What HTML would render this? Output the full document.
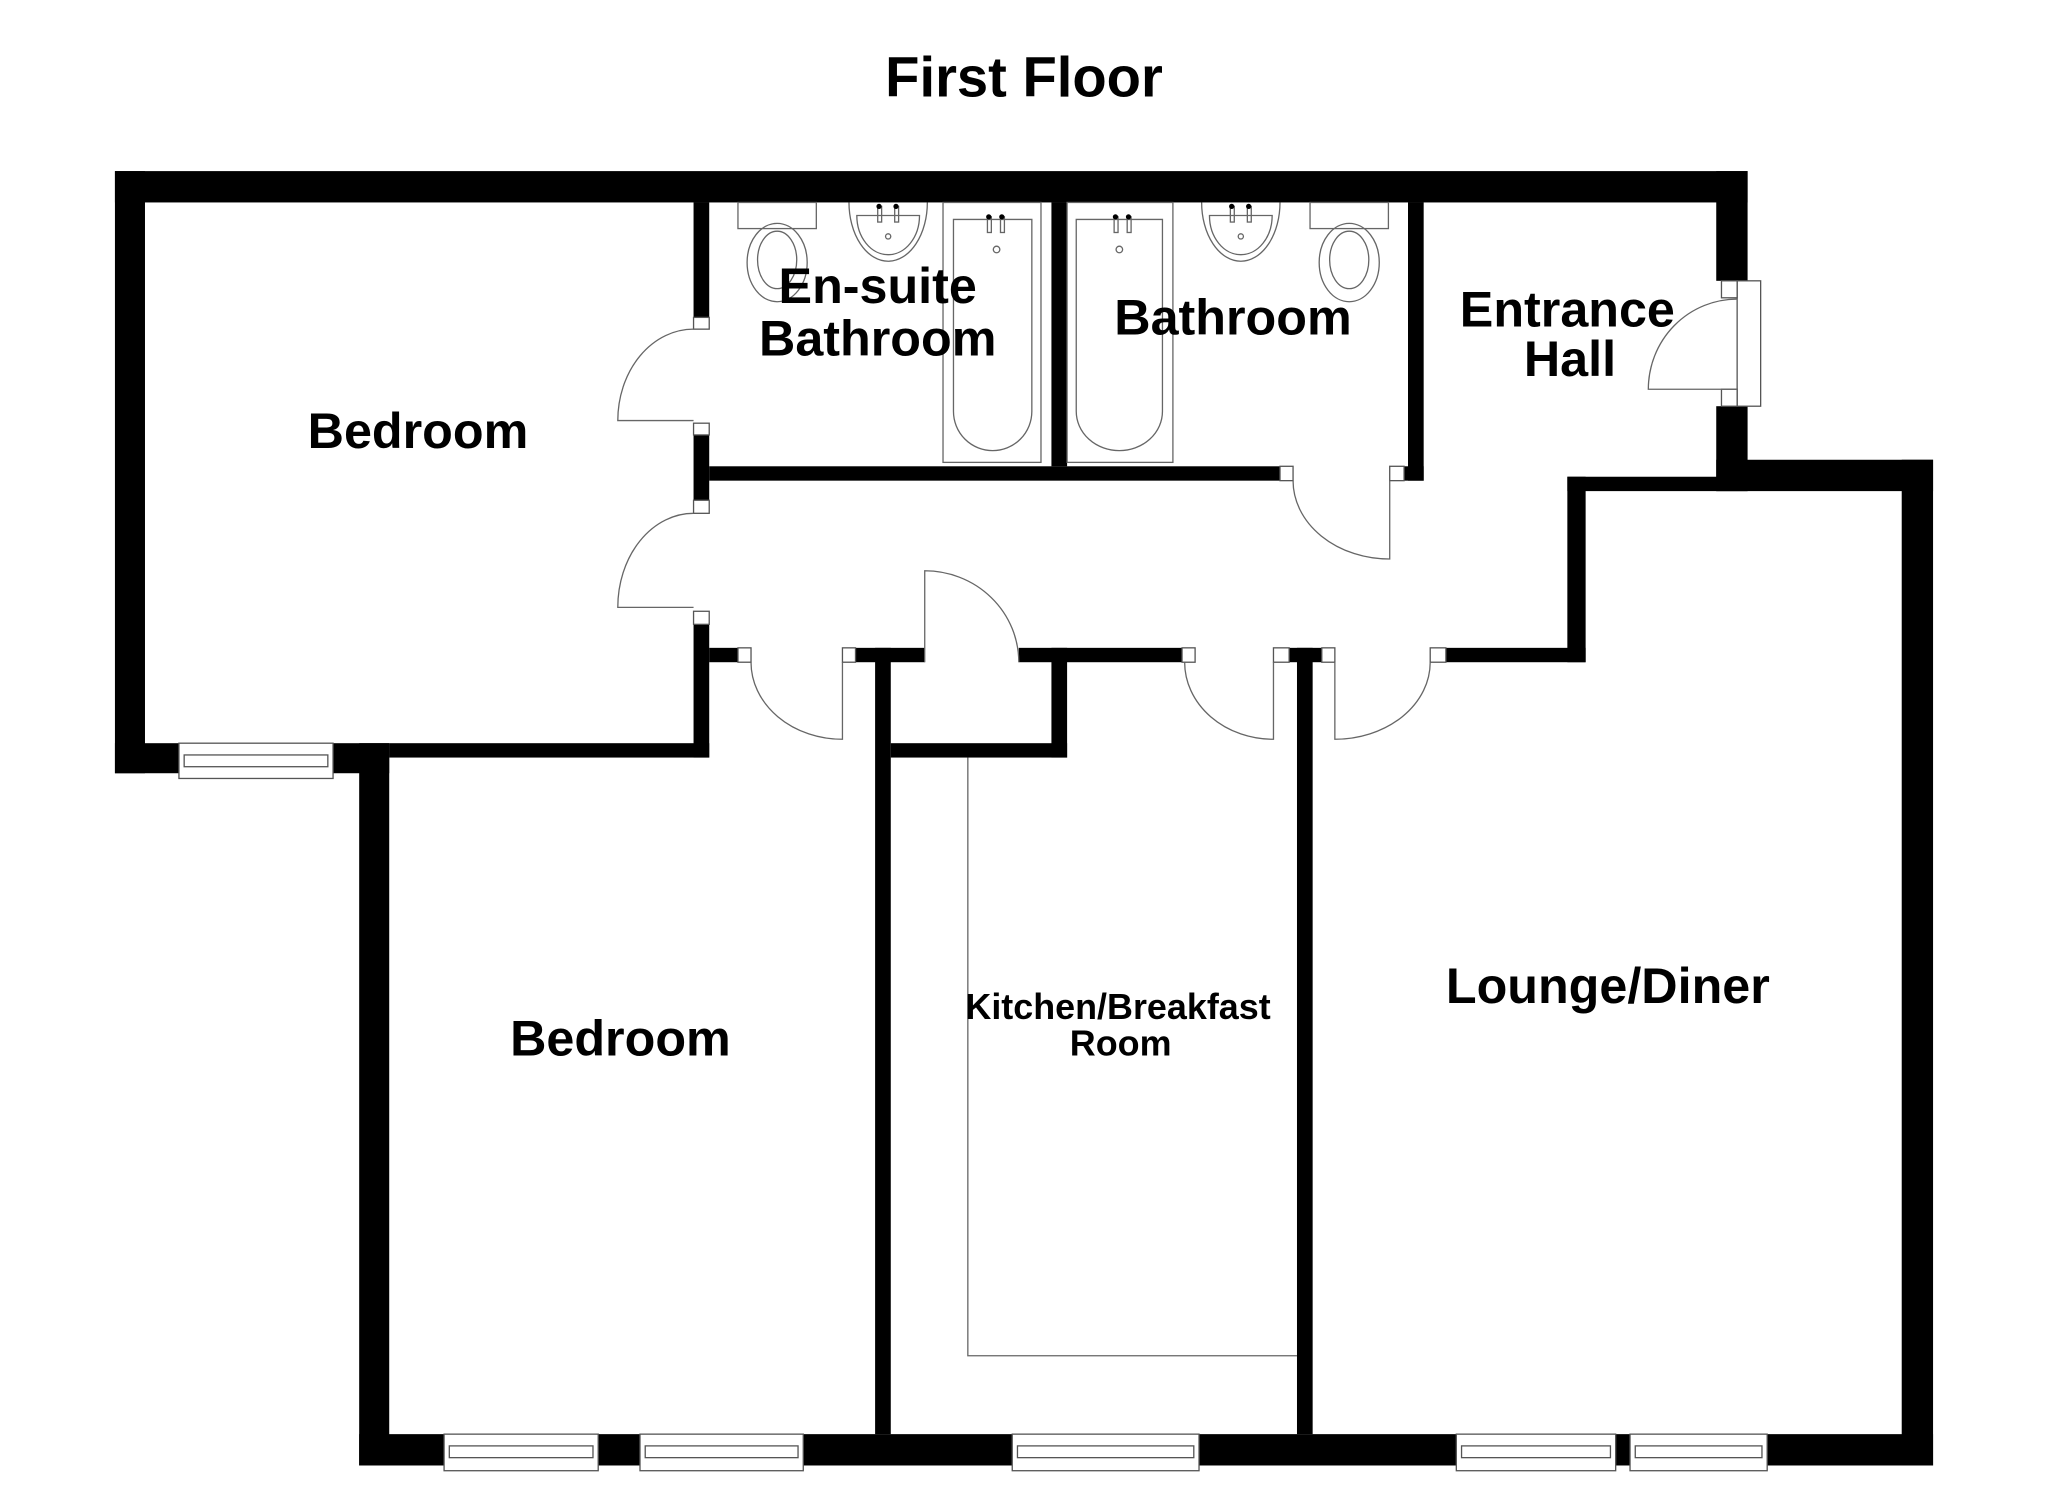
<!DOCTYPE html>
<html><head><meta charset="utf-8"><style>
html,body{margin:0;padding:0;background:#fff;}
svg{display:block;}
text{font-family:"Liberation Sans",Arial,sans-serif;font-weight:bold;fill:#000;}
</style></head><body>
<svg width="2048" height="1489" viewBox="0 0 1568 1140" preserveAspectRatio="none" xmlns="http://www.w3.org/2000/svg">
<rect width="1568" height="1140" fill="#fff"/>
<g fill="#000">
<rect x="88" y="131" width="1250" height="24"/>
<rect x="88" y="131" width="23" height="461"/>
<rect x="88" y="569" width="210" height="23"/>
<rect x="275" y="569" width="23" height="553"/>
<rect x="298" y="569" width="245" height="11"/>
<rect x="531" y="155" width="12" height="88"/>
<rect x="531" y="333" width="12" height="50"/>
<rect x="531" y="478" width="12" height="102"/>
<rect x="543" y="357" width="437" height="11"/>
<rect x="1075" y="357" width="15" height="11"/>
<rect x="1078" y="155" width="12" height="213"/>
<rect x="805" y="155" width="12" height="202"/>
<rect x="1314" y="131" width="24" height="84"/>
<rect x="1314" y="311" width="24" height="65"/>
<rect x="1314" y="352" width="166" height="24"/>
<rect x="1200" y="365" width="138" height="11"/>
<rect x="1200" y="365" width="14" height="142"/>
<rect x="1456" y="352" width="24" height="770"/>
<rect x="275" y="1098" width="1205" height="24"/>
<rect x="543" y="496" width="22" height="11"/>
<rect x="655" y="496" width="53" height="11"/>
<rect x="780" y="496" width="125" height="11"/>
<rect x="987" y="496" width="25" height="11"/>
<rect x="1107" y="496" width="107" height="11"/>
<rect x="670" y="496" width="12" height="602"/>
<rect x="805" y="496" width="12" height="84"/>
<rect x="682" y="569" width="135" height="11"/>
<rect x="993" y="496" width="12" height="602"/>
</g>
<g fill="#fff" stroke="#555" stroke-width="1">
<rect x="531" y="243" width="12" height="9"/><rect x="531" y="324" width="12" height="9"/>
<rect x="531" y="383" width="12" height="10"/><rect x="531" y="468" width="12" height="10"/>
<rect x="565" y="496" width="10" height="11"/><rect x="645" y="496" width="10" height="11"/>
<rect x="905" y="496" width="10" height="11"/><rect x="975" y="496" width="12" height="11"/>
<rect x="1012" y="496" width="10" height="11"/><rect x="1095" y="496" width="12" height="11"/>
<rect x="980" y="357" width="10" height="11"/><rect x="1064" y="357" width="11" height="11"/>
<rect x="1330" y="215" width="18" height="96"/>
<rect x="1318" y="215" width="12" height="13"/><rect x="1318" y="298" width="12" height="13"/>
<rect x="137" y="569" width="118" height="27"/><rect x="141" y="578" width="110" height="9"/>
<rect x="340" y="1098" width="118" height="28"/><rect x="344" y="1107" width="110" height="9"/>
<rect x="490" y="1098" width="125" height="28"/><rect x="494" y="1107" width="117" height="9"/>
<rect x="775" y="1098" width="143" height="28"/><rect x="779" y="1107" width="135" height="9"/>
<rect x="1115" y="1098" width="122" height="28"/><rect x="1119" y="1107" width="114" height="9"/>
<rect x="1248" y="1098" width="105" height="28"/><rect x="1252" y="1107" width="97" height="9"/>
</g>
<g fill="none" stroke="#666" stroke-width="1">
<path d="M531 252 A58 70 0 0 0 473 322 L531 322"/>
<path d="M531 393 A58 72 0 0 0 473 465 L531 465"/>
<path d="M575 507 A70 59 0 0 0 645 566 L645 507"/>
<path d="M708 507 L708 437 A72 70 0 0 1 780 507"/>
<path d="M907 507 A68 59 0 0 0 975 566 L975 507"/>
<path d="M1022 507 L1022 566 A73 59 0 0 0 1095 507"/>
<path d="M990 368 A74 60 0 0 0 1064 428 L1064 368"/>
<path d="M1330 229 A68 69 0 0 0 1262 298 L1330 298"/>
<path d="M741 580 L741 1038 L993 1038"/>
<rect x="565" y="155" width="60" height="20"/>
<ellipse cx="595" cy="201" rx="23" ry="30"/><ellipse cx="595" cy="199" rx="15" ry="22"/>
<path d="M650 155 A30 45 0 0 0 710 155"/>
<path d="M656 165 A24 30 0 0 0 704 165 Z"/>
<rect x="672" y="158" width="3" height="12"/><rect x="685" y="158" width="3" height="12"/>
<circle cx="680" cy="181" r="2"/>
<rect x="722" y="155" width="75" height="199"/>
<path d="M730 168 L790 168 L790 315 A30 30 0 0 1 730 315 Z"/>
<rect x="756" y="166" width="3" height="12"/><rect x="766" y="166" width="3" height="12"/>
<circle cx="763" cy="191" r="2.5"/>
<rect x="817" y="155" width="81" height="199"/>
<path d="M824 168 L890 168 L890 315 A33 30 0 0 1 824 315 Z"/>
<rect x="853" y="166" width="3" height="12"/><rect x="863" y="166" width="3" height="12"/>
<circle cx="857" cy="191" r="2.5"/>
<path d="M920 155 A30 45 0 0 0 980 155"/>
<path d="M926 165 A24 30 0 0 0 974 165 Z"/>
<rect x="942" y="158" width="3" height="12"/><rect x="955" y="158" width="3" height="12"/>
<circle cx="950" cy="181" r="2"/>
<rect x="1003" y="155" width="60" height="20"/>
<ellipse cx="1033" cy="201" rx="23" ry="30"/><ellipse cx="1033" cy="199" rx="15" ry="22"/>
</g>
<g fill="#000">
<circle cx="673" cy="158" r="2"/><circle cx="686" cy="158" r="2"/>
<circle cx="757" cy="166" r="2"/><circle cx="767" cy="166" r="2"/>
<circle cx="854" cy="166" r="2"/><circle cx="864" cy="166" r="2"/>
<circle cx="943" cy="158" r="2"/><circle cx="956" cy="158" r="2"/>
</g>
<text x="784" y="74" font-size="43" text-anchor="middle">First Floor</text>
<text x="320" y="343" font-size="38.5" text-anchor="middle">Bedroom</text>
<text x="672" y="232" font-size="38.5" text-anchor="middle">En-suite</text>
<text x="672" y="272" font-size="38.5" text-anchor="middle">Bathroom</text>
<text x="944" y="256" font-size="38.5" text-anchor="middle">Bathroom</text>
<text x="1200" y="250" font-size="38.5" text-anchor="middle">Entrance</text>
<text x="1202" y="288" font-size="38.5" text-anchor="middle">Hall</text>
<text x="475" y="808" font-size="38.5" text-anchor="middle">Bedroom</text>
<text x="856" y="780" font-size="27.5" text-anchor="middle">Kitchen/Breakfast</text>
<text x="858" y="808" font-size="27.5" text-anchor="middle">Room</text>
<text x="1231" y="768" font-size="38.5" text-anchor="middle">Lounge/Diner</text>
</svg>
</body></html>
